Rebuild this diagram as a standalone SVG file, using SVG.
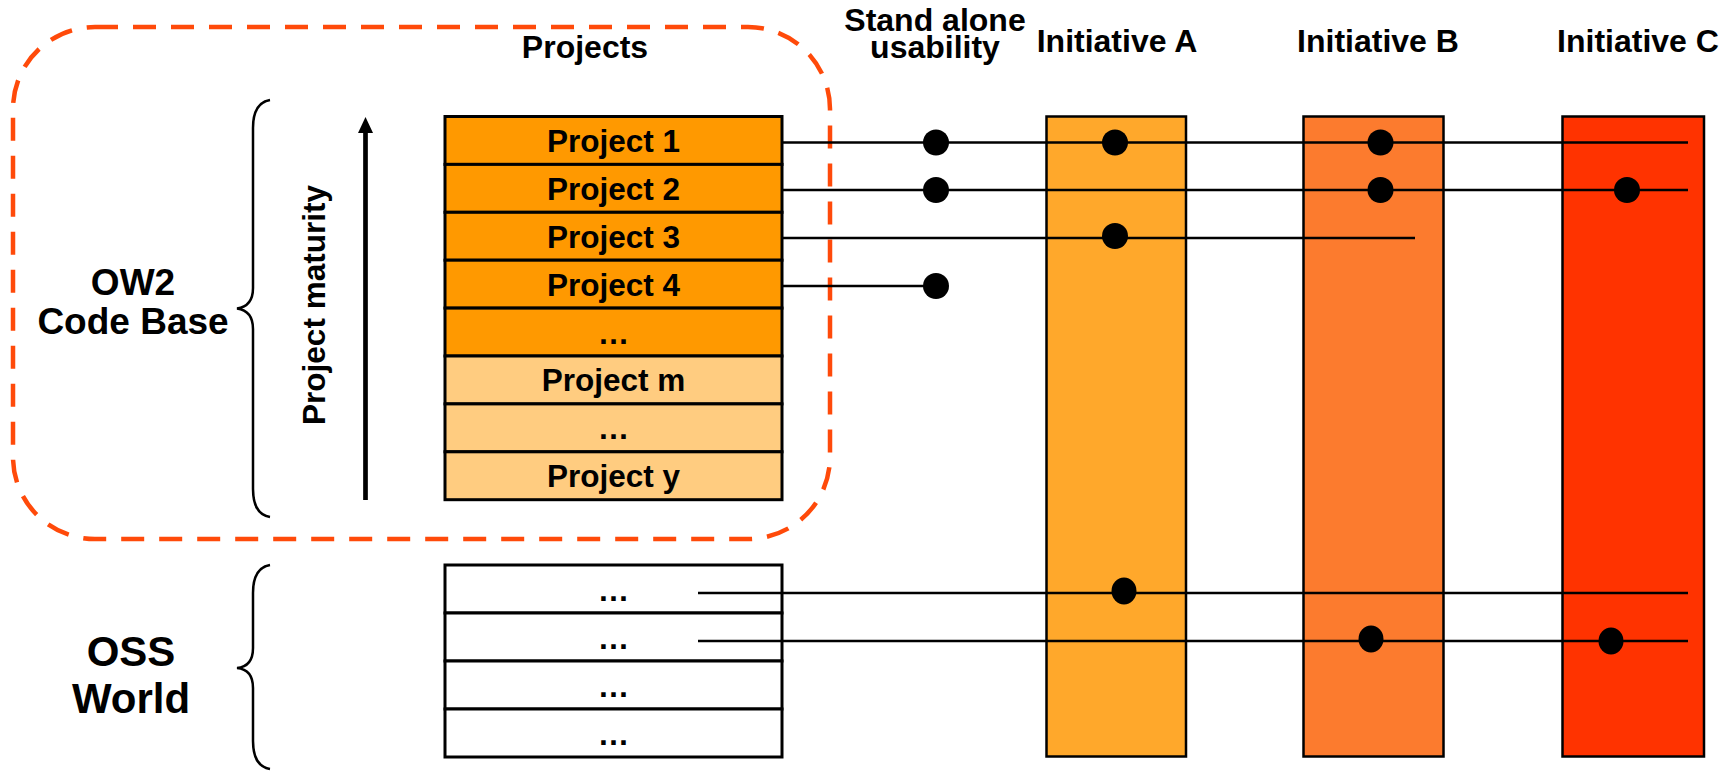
<svg xmlns="http://www.w3.org/2000/svg" width="1733" height="771" viewBox="0 0 1733 771">
<style>
text{font-family:"Liberation Sans",Arial,sans-serif;font-weight:bold;fill:#000;text-anchor:middle}
.t{font-size:31.5px}
.h{font-size:32px}
.big{font-size:37px}
.huge{font-size:42px}
.row{stroke:#000;stroke-width:3}
.hi{fill:#FF9900}
.lo{fill:#FFCC80}
.wh{fill:#FFFFFF}
.bar{stroke:#000;stroke-width:2.5}
.conn{stroke:#000;stroke-width:2.5;fill:none}
.dot{fill:#000}
.brace{stroke:#000;stroke-width:2.5;fill:none}
</style>
<rect width="1733" height="771" fill="#fff"/>

<g id="ow2-boundary">
<rect x="13" y="27" width="817" height="512" rx="82" ry="82" fill="none" stroke="#FF4A0A" stroke-width="4.5" stroke-dasharray="23 15"/>
</g>

<g id="headers">
<text class="h" x="585" y="58">Projects</text>
<text class="h" x="935" y="31">Stand alone</text>
<text class="h" x="935" y="58">usability</text>
<text class="h" x="1117" y="52">Initiative A</text>
<text class="h" x="1378" y="52">Initiative B</text>
<text class="h" x="1638" y="52">Initiative C</text>
</g>

<g id="ow2-label">
<text class="big" x="133" y="295">OW2</text>
<text class="big" x="133" y="334">Code Base</text>
<path class="brace" d="M270 100 C258 102 253 112 253 128 L253 288 C253 300 248 307 237 308.5 C248 310 253 317 253 329 L253 489 C253 505 258 515 270 517"/>
</g>

<g id="oss-label">
<text class="huge" x="131" y="666">OSS</text>
<text class="huge" x="131" y="713">World</text>
<path class="brace" d="M270 565 C258 567 253 577 253 593 L253 648 C253 660 248 667 237 668 C248 669 253 676 253 688 L253 741 C253 757 258 767 270 769"/>
</g>

<g id="maturity-arrow">
<line x1="365.5" y1="500" x2="365.5" y2="130" stroke="#000" stroke-width="4.7"/>
<polygon points="365.5,117 358,133 373,133" fill="#000"/>
<text class="t" transform="translate(325,305) rotate(-90)" x="0" y="0">Project maturity</text>
</g>

<g id="initiative-a"><rect class="bar" x="1046.5" y="116.5" width="139.5" height="640" fill="#FFA82B"/></g>
<g id="initiative-b"><rect class="bar" x="1303.5" y="116.5" width="140" height="640" fill="#FC7B2E"/></g>
<g id="initiative-c"><rect class="bar" x="1562.5" y="116.5" width="141.5" height="640" fill="#FF3300"/></g>

<g id="projects-table">
<g id="project-1"><rect class="row hi" x="445" y="116.5" width="337" height="47.9"/><text class="t" x="613.5" y="152">Project 1</text></g>
<g id="project-2"><rect class="row hi" x="445" y="164.4" width="337" height="47.9"/><text class="t" x="613.5" y="200">Project 2</text></g>
<g id="project-3"><rect class="row hi" x="445" y="212.3" width="337" height="47.9"/><text class="t" x="613.5" y="248">Project 3</text></g>
<g id="project-4"><rect class="row hi" x="445" y="260.2" width="337" height="47.9"/><text class="t" x="613.5" y="296">Project 4</text></g>
<g id="project-dots-1"><rect class="row hi" x="445" y="308.1" width="337" height="47.9"/><text class="t" x="613.5" y="343.5">…</text></g>
<g id="project-m"><rect class="row lo" x="445" y="356" width="337" height="47.9"/><text class="t" x="613.5" y="391">Project m</text></g>
<g id="project-dots-2"><rect class="row lo" x="445" y="403.9" width="337" height="47.9"/><text class="t" x="613.5" y="439">…</text></g>
<g id="project-y"><rect class="row lo" x="445" y="451.8" width="337" height="47.9"/><text class="t" x="613.5" y="487">Project y</text></g>
</g>

<g id="oss-table">
<g id="oss-1"><rect class="row wh" x="445" y="565" width="337" height="48"/><text class="t" x="613.5" y="601">…</text></g>
<g id="oss-2"><rect class="row wh" x="445" y="613" width="337" height="48"/><text class="t" x="613.5" y="649">…</text></g>
<g id="oss-3"><rect class="row wh" x="445" y="661" width="337" height="48"/><text class="t" x="613.5" y="697">…</text></g>
<g id="oss-4"><rect class="row wh" x="445" y="709" width="337" height="48"/><text class="t" x="613.5" y="745">…</text></g>
</g>

<g id="connectors">
<line class="conn" x1="782" y1="142.5" x2="1688" y2="142.5"/>
<line class="conn" x1="782" y1="190" x2="1688" y2="190"/>
<line class="conn" x1="782" y1="238" x2="1415" y2="238"/>
<line class="conn" x1="782" y1="286" x2="936" y2="286"/>
<line class="conn" x1="698" y1="593" x2="1688" y2="593"/>
<line class="conn" x1="698" y1="641" x2="1688" y2="641"/>
<circle class="dot" cx="936" cy="142.5" r="13"/>
<circle class="dot" cx="936" cy="190" r="13"/>
<circle class="dot" cx="936" cy="286" r="13"/>
<circle class="dot" cx="1115" cy="142.5" r="13"/>
<circle class="dot" cx="1115" cy="236" r="13"/>
<circle class="dot" cx="1380.5" cy="142.5" r="13"/>
<circle class="dot" cx="1380.5" cy="190" r="13"/>
<circle class="dot" cx="1627" cy="190" r="13"/>
<ellipse class="dot" cx="1124" cy="591" rx="12.5" ry="13.5"/>
<ellipse class="dot" cx="1371" cy="639" rx="12.5" ry="13.5"/>
<ellipse class="dot" cx="1611" cy="641" rx="12.5" ry="13.5"/>
</g>
</svg>
